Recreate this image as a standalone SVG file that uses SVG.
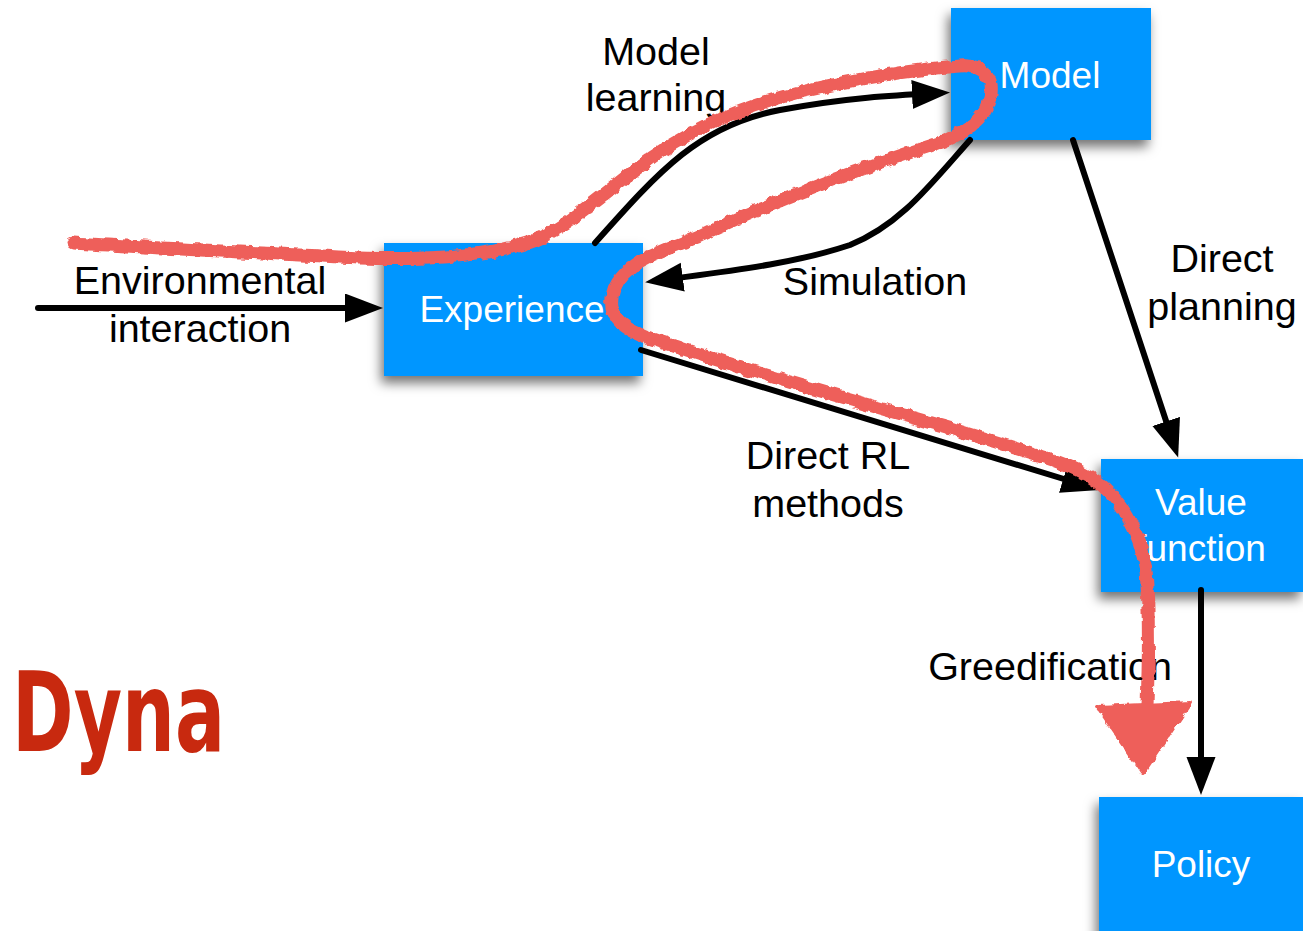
<svg xmlns="http://www.w3.org/2000/svg" width="1303" height="931" viewBox="0 0 1303 931">
<style>
.box{fill:#0096FF;filter:url(#shadow)}
.bt{font-family:"Liberation Sans",Arial,sans-serif;font-size:37px;fill:#FFFFFF;text-anchor:middle}
.lb{font-family:"Liberation Sans",Arial,sans-serif;font-size:39.5px;fill:#000000;text-anchor:middle}
.conn{fill:none;stroke:#000;stroke-width:6;stroke-linecap:round;marker-end:url(#ah)}
.red{fill:none;stroke:#EE5F5A;stroke-width:13;stroke-linecap:round;stroke-linejoin:round;filter:url(#rough)}
</style>
<defs>
<filter id="shadow" x="-20%" y="-20%" width="140%" height="150%">
<feDropShadow dx="-3" dy="7" stdDeviation="6" flood-color="#000" flood-opacity="0.55"/>
</filter>
<filter id="rough" x="-5%" y="-5%" width="110%" height="110%">
<feTurbulence type="fractalNoise" baseFrequency="0.12" numOctaves="2" seed="3" result="n"/>
<feDisplacementMap in="SourceGraphic" in2="n" scale="6" xChannelSelector="R" yChannelSelector="G"/>
</filter>
<marker id="ah" markerUnits="userSpaceOnUse" markerWidth="40" markerHeight="30" refX="28" refY="14.5" orient="auto">
<path d="M0,0 L38,14.5 L0,29 Z" fill="#000"/>
</marker>
</defs>

<g id="experience"><rect class="box" x="384" y="243" width="259" height="133"/><text class="bt" x="512" y="322">Experience</text></g>
<g id="model"><rect class="box" x="951" y="8" width="200" height="132"/><text class="bt" x="1050" y="88">Model</text></g>
<g id="value-function"><rect class="box" x="1101" y="459" width="202" height="133"/><text class="bt" x="1201" y="515">Value</text><text class="bt" x="1201" y="561">function</text></g>
<g id="policy"><rect class="box" x="1099" y="797" width="204" height="140"/><text class="bt" x="1201" y="877">Policy</text></g>

<g id="connectors">
<path class="conn" d="M38,308 L373,308"/>
<path class="conn" d="M595,243 C660,170 700,125 780,110 C850,97 900,95 940,93"/>
<path class="conn" d="M970,140 C930,185 900,225 850,245 C790,265 720,272 655,281"/>
<path class="conn" d="M1073,140 L1175,448"/>
<path class="conn" d="M641,350 L1090,487"/>
<path class="conn" d="M1201,590 L1201,785"/>
</g>

<g id="labels">
<text class="lb" x="656" y="65">Model</text>
<text class="lb" x="656" y="111">learning</text>
<text class="lb" x="200" y="294">Environmental</text>
<text class="lb" x="200" y="342">interaction</text>
<text class="lb" x="875" y="295">Simulation</text>
<text class="lb" x="1222" y="272">Direct</text>
<text class="lb" x="1222" y="320">planning</text>
<text class="lb" x="828" y="469">Direct RL</text>
<text class="lb" x="828" y="517">methods</text>
<text class="lb" x="1050" y="680">Greedification</text>
</g>

<g id="dyna-path">
<path class="red" d="M74,243 C150,248 250,252 360,258 C420,260 480,258 527,243 C560,232 590,205 635,170 C680,135 730,110 800,92 C860,78 920,69 960,66 C985,64 995,80 990,98 C985,118 965,135 930,146 C870,165 780,198 700,236 C660,252 625,262 614,290 C606,312 618,328 650,338 C720,362 850,400 950,428 C1020,450 1070,462 1095,480 C1120,498 1140,530 1146,570 C1150,620 1148,680 1147,705"/>
<polygon points="1098,707 1190,703 1143,773" fill="#EE5F5A" stroke="#EE5F5A" stroke-width="4" stroke-linejoin="round" filter="url(#rough)"/>
</g>

<text id="dyna" x="12" y="751" textLength="213" lengthAdjust="spacingAndGlyphs" font-family="'DejaVu Sans',sans-serif" font-weight="bold" font-size="110" fill="#C8290F">Dyna</text>
</svg>
